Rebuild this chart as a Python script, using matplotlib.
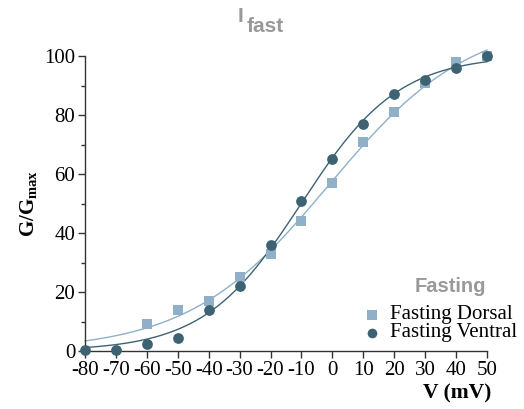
import numpy as np
import matplotlib
matplotlib.use("Agg")
import matplotlib.pyplot as plt
from matplotlib.lines import Line2D

# Data
v_dorsal = [-60, -50, -40, -30, -20, -10, 0, 10, 20, 30, 40, 50]
g_dorsal = [9, 14, 17, 25, 33, 44, 57, 71, 81, 91, 98, 100]
v_ventral = [-80, -70, -60, -50, -40, -30, -20, -10, 0, 10, 20, 30, 40, 50]
g_ventral = [0.5, 0.3, 2.5, 4.5, 14, 22, 36, 51, 65, 77, 87, 92, 96, 100]
x_ticks = [-80, -70, -60, -50, -40, -30, -20, -10, 0, 10, 20, 30, 40, 50]
y_ticks = [0, 20, 40, 60, 80, 100]
labels = ["Fasting Dorsal", "Fasting Ventral"]

c_dorsal = "#8fb0c8"
c_ventral = "#3d6373"

plt.rcParams["mathtext.fontset"] = "custom"
plt.rcParams["mathtext.rm"] = "Liberation Serif"
plt.rcParams["mathtext.bf"] = "Liberation Serif:bold"


def boltz_fit(v, g):
    v = np.asarray(v, float)
    g = np.asarray(g, float)
    best = None
    for vh in np.linspace(-40, 20, 241):
        for k in np.linspace(5, 40, 141):
            b = 1.0 / (1.0 + np.exp((vh - v) / k))
            gmax = (b @ g) / (b @ b)
            err = np.sum((gmax * b - g) ** 2)
            if best is None or err < best[0]:
                best = (err, vh, k, gmax)
    return best[1:]


fig = plt.figure(figsize=(5.24, 4.09), dpi=100)
ax = fig.add_axes([85 / 524, 58 / 409, 402 / 524, 295 / 409])

vv = np.linspace(-80, 50, 300)
for v, g, c, m in [(v_dorsal, g_dorsal, c_dorsal, "s"),
                   (v_ventral, g_ventral, c_ventral, "o")]:
    vh, k, gmax = boltz_fit(v, g)
    ax.plot(vv, gmax / (1 + np.exp((vh - vv) / k)), color=c, lw=1.0, clip_on=False)
    ax.scatter(v, g, marker=m, s=60 if m == "o" else 55, color=c, zorder=3,
               clip_on=False, linewidths=0)

ax.set_xlim(-80, 50)
ax.set_ylim(0, 100)
for s in ["top", "right"]:
    ax.spines[s].set_visible(False)
for s in ["left", "bottom"]:
    ax.spines[s].set_color("#333333")
    ax.spines[s].set_linewidth(1.0)

ax.set_xticks(x_ticks)
ax.set_xticklabels([str(t) for t in x_ticks], fontfamily="Liberation Serif", fontsize=15)
ax.set_yticks(y_ticks)
ax.set_yticklabels([str(t) for t in y_ticks], fontfamily="Liberation Serif", fontsize=15)
ax.set_yticks([10, 30, 50, 70, 90], minor=True)
ax.tick_params(axis="both", which="major", length=5, width=1, color="#333333")
ax.tick_params(axis="x", which="major", pad=2)
ax.tick_params(axis="y", which="major", pad=2)
ax.tick_params(axis="y", which="minor", length=3, width=1, color="#333333")

ax.set_ylabel(r"$\mathbf{G/G_{max}}$", fontsize=15, labelpad=4)
fig.text(491 / 524, 1 - 393 / 409, "V (mV)", ha="right", va="center",
         fontfamily="Liberation Serif", fontweight="bold", fontsize=15.5)

# Title
fig.text(238 / 524, 1 - 16 / 409, "I", ha="left", va="center", color="#999999",
         fontfamily="Liberation Sans", fontweight="bold", fontsize=15)
fig.text(247 / 524, 1 - 32 / 409, "fast", ha="left", va="baseline", color="#999999",
         fontfamily="Liberation Sans", fontweight="bold", fontsize=15)

# Legend (drawn by hand for the tight row spacing)
fig.text(450 / 524, 1 - 286 / 409, "Fasting", ha="center", va="center", color="#999999",
         fontfamily="Liberation Sans", fontweight="bold", fontsize=14.5)
for lab, c, m, ypix, ms in [(labels[0], c_dorsal, "s", 315, 6.5),
                            (labels[1], c_ventral, "o", 333, 7)]:
    fig.add_artist(Line2D([372 / 524], [1 - ypix / 409], marker=m, ls="", color=c,
                          markersize=ms, markeredgewidth=0, transform=fig.transFigure))
    fig.text(390 / 524, 1 - (ypix - 1) / 409, lab, ha="left", va="center",
             fontfamily="Liberation Serif", fontsize=15)

fig.savefig("out.png", dpi=100)
